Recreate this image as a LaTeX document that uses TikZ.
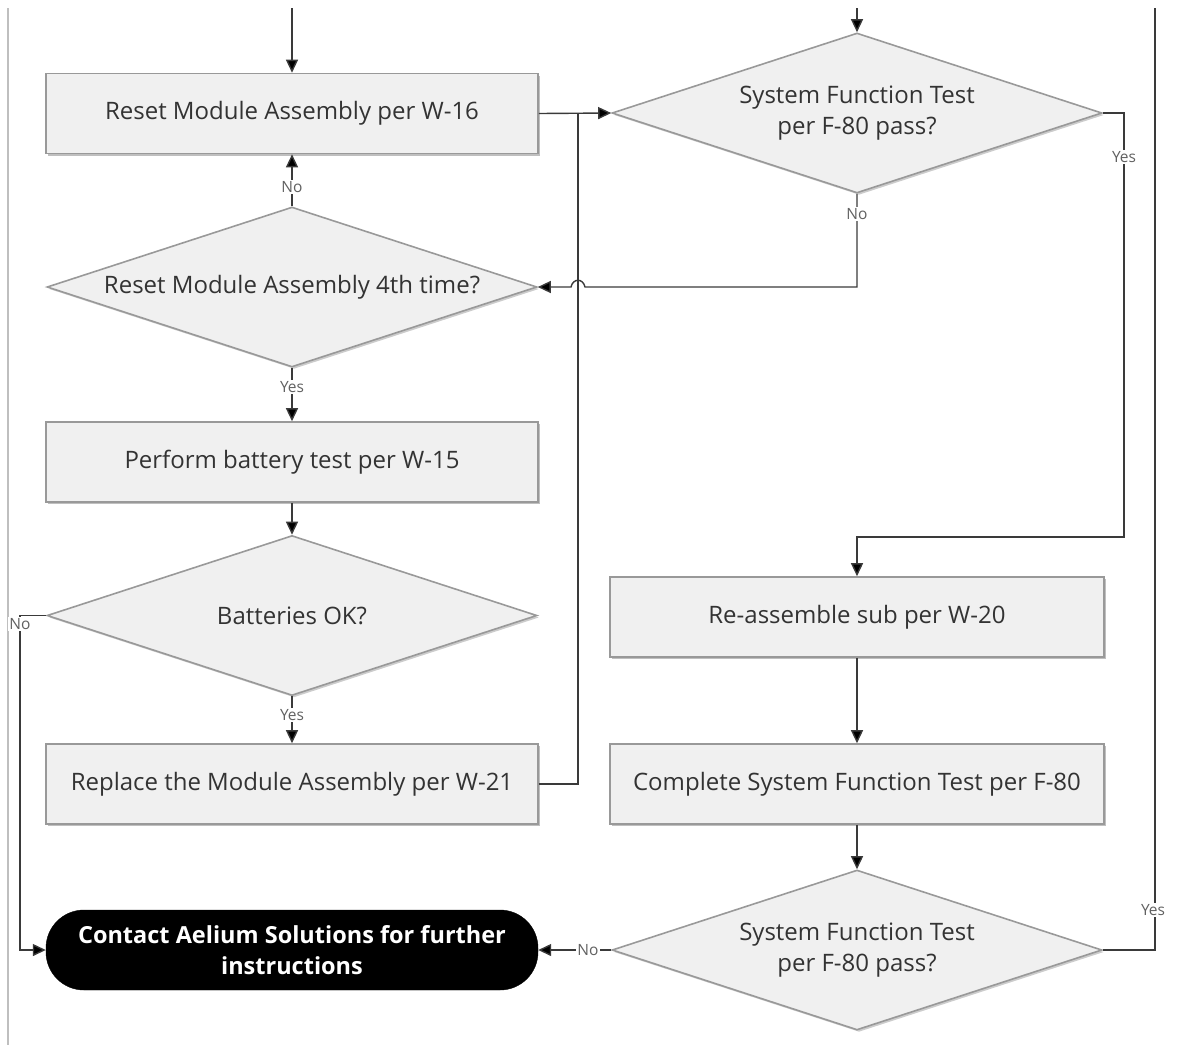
\documentclass[tikz,border=0pt]{standalone}
\usepackage{fontspec}
\setmainfont{Open Sans}
\usetikzlibrary{shapes.geometric,shadows,arrows.meta}
\definecolor{boxfill}{HTML}{F0F0F0}
\definecolor{boxline}{HTML}{999999}
\definecolor{conn}{HTML}{3A3A3A}
\definecolor{txt}{HTML}{333333}
\tikzset{
  procbox/.style={rectangle, draw=boxline, line width=1.6pt, fill=boxfill,
    minimum width=492pt, minimum height=80pt, inner sep=0pt, text=txt,
    font=\fontsize{24}{28}\selectfont,
    drop shadow={shadow xshift=2pt, shadow yshift=-2pt, opacity=0.25, fill=black}},
  decbox/.style={diamond, draw=boxline, line width=1.6pt, fill=boxfill,
    minimum width=490pt, minimum height=160pt, aspect=3.06, inner sep=0pt, text=txt,
    align=center, font=\fontsize{24}{31}\selectfont,
    drop shadow={shadow xshift=2pt, shadow yshift=-2pt, opacity=0.2, fill=black}},
  termbox/.style={rectangle, rounded corners=38pt, fill=black, draw=black,
    minimum width=492pt, minimum height=80pt, inner sep=0pt, text=white,
    align=center, font=\bfseries\fontsize{23.5}{31}\selectfont},
  conline/.style={draw=conn, line width=1.4pt},
  arr/.style={conline, -{Triangle[length=13pt,width=12pt,fill=black]}},
  lbl/.style={fill=white, inner sep=1pt, text=conn!80, font=\fontsize{15.5}{17}\selectfont}
}
\begin{document}
\begin{tikzpicture}[x=1pt,y=-1pt]
\useasboundingbox (0,0) rectangle (1185,1045);
% left border
\draw[draw=black!25, line width=2pt] (8,8) -- (8,1045);
% nodes
\node[procbox] (w16) at (292,113.5) {Reset Module Assembly per W-16};
\node[decbox] (d4) at (292,287) {Reset Module Assembly 4th time?};
\node[procbox] (bat) at (292,462) {Perform battery test per W-15};
\node[decbox] (dok) at (292,615.5) {Batteries OK?};
\node[procbox] (rep) at (292,784) {Replace the Module Assembly per W-21};
\node[termbox] (cont) at (292,950) {Contact Aelium Solutions for further\\instructions};
\node[decbox] (d1) at (857,113) {System Function Test\\per F-80 pass?};
\node[procbox, minimum width=494pt] (ras) at (857,617) {Re-assemble sub per W-20};
\node[procbox, minimum width=494pt] (cmp) at (857,784) {Complete System Function Test per F-80};
\node[decbox] (d2) at (857,950) {System Function Test\\per F-80 pass?};
% free ends
\coordinate (topL) at (292,8);
\coordinate (topR) at (857,8);
\coordinate (join) at (578,113);
\coordinate (rtop) at (1155,8);
% connectors
\draw[arr] (topL) -- (w16.north);
\draw[arr] (topR) -- (d1.north);
\draw[arr] (w16.east) -- (d1.west);
\draw[conline] (rep.east) -| (join);
\draw[arr] (d1.south) -- (857,287) -- (585,287) .. controls (583,278) and (573,278) .. (571,287) -- (d4.east);
\node[lbl] at (857,214) {No};
\draw[arr] (d1.east) -- (1124,113) -- (1124,537) -- (857,537) -- (ras.north);
\node[lbl] at (1124,157) {Yes};
\draw[arr] (d4.north) -- (w16.south);
\node[lbl] at (292,187) {No};
\draw[arr] (d4.south) -- (bat.north);
\node[lbl] at (292,387) {Yes};
\draw[arr] (bat.south) -- (dok.north);
\draw[arr] (dok.south) -- (rep.north);
\node[lbl] at (292,715) {Yes};
\draw[arr] (dok.west) -- (20,615.5) -- (20,950) -- (cont.west);
\node[lbl] at (20,624) {No};
\draw[arr] (ras.south) -- (cmp.north);
\draw[arr] (cmp.south) -- (d2.north);
\draw[arr] (d2.west) -- (cont.east);
\node[lbl] at (588,950) {No};
\draw[conline] (d2.east) -- (1155,950) -- (rtop);
\node[lbl] at (1153,910) {Yes};
\end{tikzpicture}
\end{document}
